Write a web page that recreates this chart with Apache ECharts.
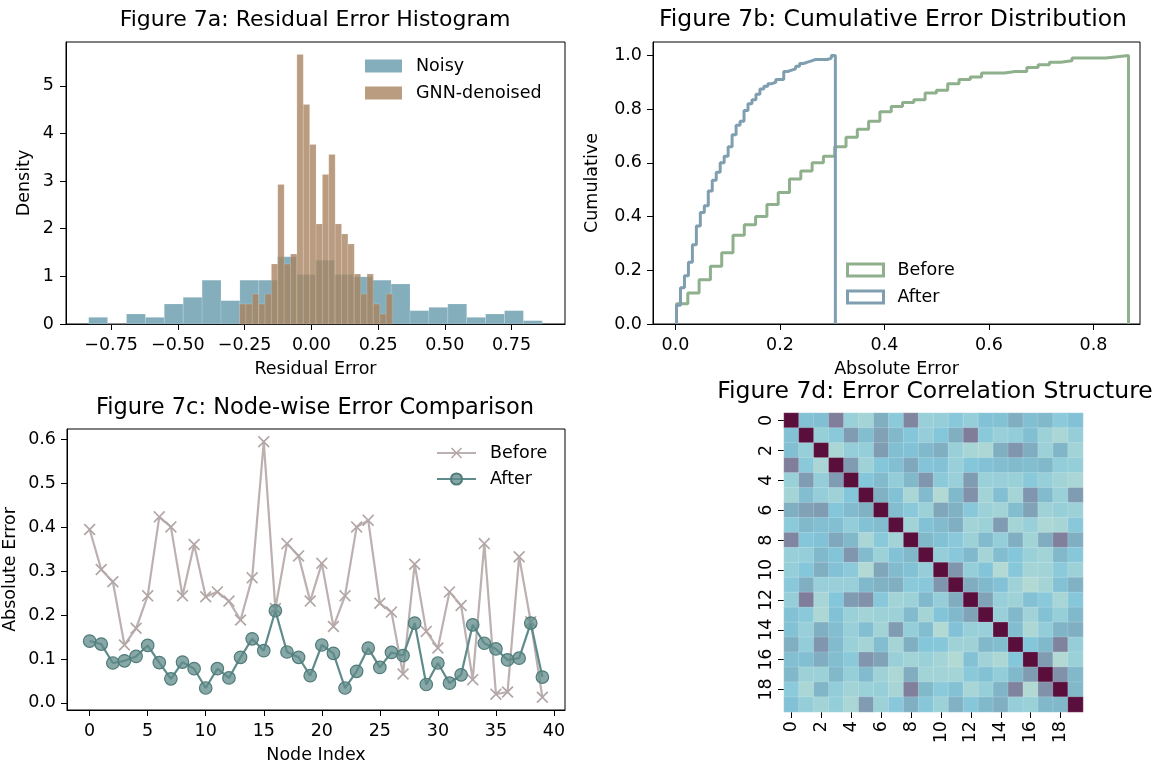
<!DOCTYPE html>
<html>
<head>
<meta charset="utf-8">
<script src="https://cdn.jsdelivr.net/npm/echarts@6/dist/echarts.min.js"></script>
<style>
  html, body { margin: 0; padding: 0; background: #fff; }
  #main { width: 1158px; height: 765px; }
</style>
</head>
<body>
<div id="main"></div>
<script>
// --- 7a: residual histograms (density per bin, bins evenly over the range)
const noisyRange = [-0.834, 0.865];
const noisyDensity = [0.14, 0, 0.21, 0.14, 0.42, 0.56, 0.92, 0.49, 0.92, 0.92, 1.41, 1.04,
                      1.34, 1.04, 0.99, 0.92, 0.84, 0.28, 0.35, 0.42, 0.14, 0.21, 0.28, 0.07];
const gnnRange = [-0.269, 0.304];
const gnnDensity = [0.42, 0.42, 0.63, 0.42, 0.63, 1.26, 2.93, 1.26, 1.47, 5.66, 4.61, 3.77,
                    2.10, 3.14, 3.56, 2.10, 1.89, 1.68, 1.05, 0.63, 1.05, 0.42, 0.21, 0.63];

// --- 7b: cumulative share per bin (40 bins)
const beforeRange = [0.002, 0.867];
const beforeCdf = [0.075, 0.115, 0.165, 0.215, 0.265, 0.33, 0.37, 0.4, 0.445, 0.49,
                   0.54, 0.57, 0.6, 0.625, 0.66, 0.695, 0.725, 0.755, 0.79, 0.81,
                   0.825, 0.835, 0.86, 0.87, 0.895, 0.91, 0.92, 0.935, 0.935, 0.94,
                   0.94, 0.955, 0.965, 0.975, 0.98, 0.99, 0.99, 0.99, 0.995, 1.0];
const afterRange = [0.002, 0.306];
const afterCdf = [0.07, 0.135, 0.18, 0.23, 0.295, 0.365, 0.415, 0.44, 0.495, 0.535,
                  0.565, 0.6, 0.625, 0.66, 0.705, 0.74, 0.755, 0.795, 0.82, 0.835,
                  0.855, 0.875, 0.885, 0.895, 0.9, 0.91, 0.91, 0.94, 0.945, 0.95,
                  0.96, 0.97, 0.975, 0.98, 0.985, 0.985, 0.985, 0.985, 0.99, 1.0];

// --- 7c: node-wise absolute error
const nodeBefore = [0.395, 0.304, 0.276, 0.132, 0.170, 0.244, 0.424, 0.401, 0.244, 0.361,
                    0.242, 0.253, 0.232, 0.189, 0.285, 0.595, 0.215, 0.363, 0.335, 0.232,
                    0.318, 0.174, 0.244, 0.401, 0.416, 0.227, 0.207, 0.066, 0.316, 0.163,
                    0.125, 0.253, 0.222, 0.053, 0.363, 0.020, 0.025, 0.333, 0.185, 0.013];
const nodeAfter = [0.141, 0.134, 0.091, 0.096, 0.106, 0.131, 0.092, 0.055, 0.093, 0.078,
                   0.034, 0.078, 0.057, 0.104, 0.146, 0.119, 0.210, 0.116, 0.104, 0.062,
                   0.132, 0.113, 0.034, 0.072, 0.125, 0.081, 0.115, 0.108, 0.182, 0.042,
                   0.091, 0.045, 0.064, 0.178, 0.136, 0.123, 0.098, 0.102, 0.182, 0.059];

// --- 7d: correlation matrix, upper triangle (row i holds cols i+1..19)
const corrUpper = [
  [0.03, 0.04, 0.31, -0.15, -0.22, 0.12, -0.05, 0.28, -0.14, -0.12, -0.03, -0.12, 0.02, 0.03, 0.12, 0.04, 0.08, -0.05, 0.02],
  [-0.13, -0.04, 0.2, 0.05, 0.18, 0.08, 0.0, -0.12, 0.0, 0.12, 0.32, -0.04, -0.14, -0.1, 0.04, -0.16, -0.25, -0.12],
  [-0.25, -0.12, -0.12, 0.2, 0.04, 0.02, 0.07, 0.12, -0.14, -0.24, -0.26, 0.12, 0.22, 0.13, -0.17, 0.09, -0.2],
  [0.2, -0.18, 0.0, 0.04, 0.15, 0.01, 0.02, -0.14, 0.0, 0.02, 0.05, 0.06, 0.05, 0.08, -0.1, -0.11],
  [0.0, 0.06, -0.1, 0.08, 0.22, -0.06, -0.14, 0.2, -0.15, -0.14, -0.15, -0.04, -0.13, -0.2, -0.25],
  [0.11, 0.03, -0.25, 0.06, -0.3, 0.07, 0.24, -0.2, 0.04, -0.22, 0.22, 0.06, -0.15, 0.2],
  [0.05, -0.04, -0.16, 0.16, 0.11, -0.03, -0.16, -0.2, 0.05, 0.17, -0.18, -0.13, -0.17],
  [-0.2, 0.02, 0.06, 0.12, -0.2, -0.17, 0.2, -0.22, -0.14, -0.27, -0.23, -0.03],
  [0.08, 0.03, -0.04, -0.17, 0.06, -0.12, 0.12, -0.2, 0.13, 0.3, 0.12],
  [-0.12, -0.03, 0.07, -0.22, 0.05, 0.0, -0.15, -0.2, 0.08, -0.02],
  [0.22, -0.12, 0.01, -0.3, -0.02, -0.22, -0.2, -0.05, -0.17],
  [0.13, 0.07, 0.02, -0.18, -0.3, -0.22, 0.03, 0.11],
  [0.17, -0.14, -0.18, 0.03, -0.04, -0.24, -0.02],
  [-0.14, 0.08, -0.19, 0.03, -0.13, 0.07],
  [0.05, -0.26, -0.1, 0.1, 0.12],
  [0.0, 0.07, 0.29, -0.12],
  [0.2, -0.3, -0.15],
  [0.24, 0.08],
  [0.08]
];
const corrLabels = Array.from({length: 20}, (_, i) => String(i));

// tick positions
const ticksResid = [-0.75, -0.5, -0.25, 0, 0.25, 0.5, 0.75];
const ticksDensity = [0, 1, 2, 3, 4, 5];
const ticksAbs = [0, 0.2, 0.4, 0.6, 0.8];
const ticksCum = [0, 0.2, 0.4, 0.6, 0.8, 1.0];
const ticksNode = [0, 5, 10, 15, 20, 25, 30, 35, 40];
const ticksNodeErr = [0, 0.1, 0.2, 0.3, 0.4, 0.5, 0.6];

const FONT = 'DejaVu Sans';

function histBars(range, dens) {
    const w = (range[1] - range[0]) / dens.length;
    return dens.map((h, i) => [range[0] + i * w, range[0] + (i + 1) * w, h]);
}

function stepLine(range, cdf) {
    const w = (range[1] - range[0]) / cdf.length;
    const pts = [[range[0], 0]];
    cdf.forEach((v, i) => {
        pts.push([range[0] + i * w, v]);
        pts.push([range[0] + (i + 1) * w, v]);
    });
    pts.push([range[1], 0]);
    return pts;
}

function corrCells() {
    const out = [];
    for (let i = 0; i < 20; i++) {
        for (let j = 0; j < 20; j++) {
            let v = 1;
            if (j > i) v = corrUpper[i][j - i - 1];
            else if (j < i) v = corrUpper[j][i - j - 1];
            out.push([j, i, v]);
        }
    }
    return out;
}

function minus(s) { return s.replace('-', '\u2212'); }

function barItem(params, api) {
    const p0 = api.coord([api.value(0), api.value(2)]);
    const p1 = api.coord([api.value(1), 0]);
    return {
        type: 'rect',
        shape: {x: p0[0], y: p0[1], width: p1[0] - p0[0], height: p1[1] - p0[1]},
        style: {fill: api.visual('color'), stroke: 'rgba(255,255,255,0.3)', lineWidth: 0.5}
    };
}

function valAxis(grid, min, max, ticks, fmt, extra, margin) {
    return Object.assign({
        gridIndex: grid, type: 'value', min: min, max: max,
        axisLine: {show: true, onZero: false, lineStyle: {color: '#000', width: 1}},
        axisTick: {show: true, length: 6, customValues: ticks, lineStyle: {color: '#000'}},
        axisLabel: {customValues: ticks, formatter: fmt, color: '#000', fontSize: 17.5,
                    fontFamily: FONT, margin: margin},
        splitLine: {show: false},
        nameLocation: 'middle',
        nameTextStyle: {color: '#000', fontSize: 17.5, fontFamily: FONT}
    }, extra);
}

function catAxis(extra) {
    return Object.assign({
        gridIndex: 3, type: 'category', data: corrLabels,
        axisLine: {show: false},
        axisTick: {show: true, interval: 1, alignWithLabel: true, length: 6, lineStyle: {color: '#000'}},
        axisLabel: {interval: 1, rotate: 90, color: '#000', fontSize: 17.5, fontFamily: FONT, margin: 9},
        splitLine: {show: false}
    }, extra);
}

function titleStyle(size) {
    return {fontSize: size, fontWeight: 'normal', color: '#000', fontFamily: FONT};
}
const legendText = {fontSize: 17.5, color: '#000', fontFamily: FONT, lineHeight: 20, padding: [0, 0, 0, 9]};
const gridBox = {show: true, borderColor: '#000', borderWidth: 1, backgroundColor: 'transparent'};

const option = {
    animation: false,
    backgroundColor: '#fff',
    title: [
        {text: 'Figure 7a: Residual Error Histogram', left: 315, top: 9, textAlign: 'center', padding: 0, textStyle: titleStyle(22)},
        {text: 'Figure 7b: Cumulative Error Distribution', left: 893, top: 8, textAlign: 'center', padding: 0, textStyle: titleStyle(23.5)},
        {text: 'Figure 7c: Node-wise Error Comparison', left: 315, top: 397, textAlign: 'center', padding: 0, textStyle: titleStyle(22.5)},
        {text: 'Figure 7d: Error Correlation Structure', left: 935, top: 380, textAlign: 'center', padding: 0, textStyle: titleStyle(23.5)}
    ],
    legend: [
        {orient: 'vertical', left: 365, top: 56, padding: 0, itemWidth: 37, itemHeight: 13, itemGap: 7,
         icon: 'rect', textStyle: legendText, data: ['Noisy', 'GNN-denoised']},
        {orient: 'vertical', left: 846, top: 260, padding: 0, itemWidth: 36, itemHeight: 12, itemGap: 7,
         textStyle: legendText,
         data: [
            {name: 'Before', icon: 'rect', itemStyle: {color: 'rgba(255,255,255,0)', borderColor: '#8fb08c', borderWidth: 3}},
            {name: 'After', icon: 'rect', itemStyle: {color: 'rgba(255,255,255,0)', borderColor: '#7f9fb1', borderWidth: 3}}
         ]},
        {orient: 'vertical', left: 436, top: 443, padding: 0, itemWidth: 39, itemHeight: 14, itemGap: 6,
         textStyle: legendText, formatter: n => n.replace('c-', ''),
         data: ['c-Before', 'c-After']}
    ],
    grid: [
        Object.assign({left: 66, top: 42, width: 499, height: 282}, gridBox),
        Object.assign({left: 653, top: 42, width: 487, height: 282}, gridBox),
        Object.assign({left: 67, top: 429, width: 498, height: 283}, gridBox),
        {left: 784, top: 413, width: 299, height: 299}
    ],
    xAxis: [
        valAxis(0, -0.919, 0.95, ticksResid, v => minus(v.toFixed(2)), {name: 'Residual Error', nameGap: 36}, 12),
        valAxis(1, -0.043, 0.889, ticksAbs, v => v.toFixed(1), {name: 'Absolute Error', nameGap: 36}, 12),
        valAxis(2, -1.95, 40.95, ticksNode, v => String(v), {name: 'Node Index', nameGap: 36}, 12),
        catAxis({position: 'bottom'})
    ],
    yAxis: [
        valAxis(0, 0, 5.92, ticksDensity, v => String(v), {name: 'Density', nameGap: 33}, 12),
        valAxis(1, 0, 1.05, ticksCum, v => v.toFixed(1), {name: 'Cumulative', nameGap: 52}, 11),
        valAxis(2, -0.0161, 0.6241, ticksNodeErr, v => v.toFixed(1), {name: 'Absolute Error', nameGap: 48}, 11),
        catAxis({inverse: true})
    ],
    visualMap: {
        show: false, seriesIndex: 6, min: -0.3, max: 1.0,
        inRange: {color: ['#b2d9d3', '#a2d3d7', '#92cdd9', '#84c6da', '#80b4c6', '#809cb2', '#80809c',
                          '#7c7092', '#786088', '#72507c', '#6c4070', '#663064', '#602050', '#5a0e3c']}
    },
    series: [
        {type: 'custom', name: 'Noisy', xAxisIndex: 0, yAxisIndex: 0, renderItem: barItem,
         encode: {x: [0, 1], y: 2}, itemStyle: {color: '#84aebb'}, data: histBars(noisyRange, noisyDensity)},
        {type: 'custom', name: 'GNN-denoised', xAxisIndex: 0, yAxisIndex: 0, renderItem: barItem,
         encode: {x: [0, 1], y: 2}, itemStyle: {color: 'rgba(169,131,96,0.8)'}, data: histBars(gnnRange, gnnDensity)},
        {type: 'line', name: 'Before', xAxisIndex: 1, yAxisIndex: 1, showSymbol: false, symbol: 'none',
         lineStyle: {color: '#8fb08c', width: 3}, itemStyle: {color: '#8fb08c'},
         data: stepLine(beforeRange, beforeCdf)},
        {type: 'line', name: 'After', xAxisIndex: 1, yAxisIndex: 1, showSymbol: false, symbol: 'none',
         lineStyle: {color: '#7f9fb1', width: 3}, itemStyle: {color: '#7f9fb1'},
         data: stepLine(afterRange, afterCdf)},
        {type: 'line', name: 'c-Before', xAxisIndex: 2, yAxisIndex: 2,
         symbol: 'path://M1,0 L5,4 L9,0 L10,1 L6,5 L10,9 L9,10 L5,6 L1,10 L0,9 L4,5 L0,1 Z', symbolSize: 12,
         lineStyle: {color: '#bcb0b0', width: 2.2}, itemStyle: {color: '#b3a6a6'},
         data: nodeBefore.map((v, i) => [i, v])},
        {type: 'line', name: 'c-After', xAxisIndex: 2, yAxisIndex: 2, symbol: 'circle', symbolSize: 12.5,
         lineStyle: {color: '#5f8b8a', width: 2.2},
         itemStyle: {color: 'rgba(95,139,137,0.75)', borderColor: '#4f7b79', borderWidth: 1.2},
         data: nodeAfter.map((v, i) => [i, v])},
        {type: 'heatmap', xAxisIndex: 3, yAxisIndex: 3,
         itemStyle: {borderColor: 'rgba(255,255,255,0.35)', borderWidth: 0.5},
         emphasis: {disabled: true}, data: corrCells()}
    ]
};

echarts.init(document.getElementById('main')).setOption(option);
</script>
</body>
</html>
